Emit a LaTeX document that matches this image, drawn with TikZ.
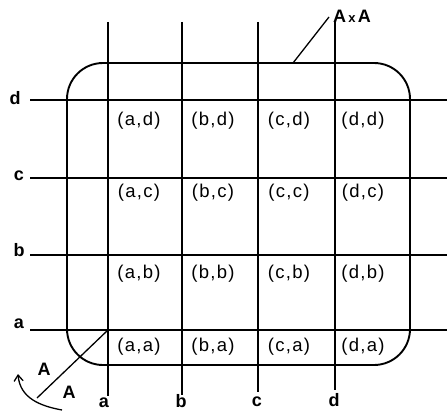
\documentclass[tikz,border=0pt]{standalone}
\usepackage{fontspec}
\setmainfont{Liberation Sans}[LetterSpace=7]
\usetikzlibrary{arrows.meta}
\begin{document}
\begin{tikzpicture}[x=1pt,y=-1pt,
  grid/.style={line width=1.3pt,black},
  setline/.style={line width=1.9pt,black},
  lbl/.style={font=\fontsize{18}{20}\selectfont\bfseries, inner sep=1pt},
  cell/.style={font=\fontsize{18.5}{20}\selectfont}]
\useasboundingbox[fill=white] (0,0) rectangle (447,412);
% vertical lines
\foreach \n/\x/\yb in {a/108/396,b/182/395,c/258/392,d/335/390}{
  \coordinate (vt\n) at (\x,22);
  \coordinate (vb\n) at (\x,\yb);
  \draw[grid] (vt\n) -- (vb\n);
}
% horizontal lines
\foreach \n/\y in {d/100,c/178,b/255,a/330}{
  \coordinate (hl\n) at (30,\y);
  \coordinate (hr\n) at (447,\y);
  \draw[grid] (hl\n) -- (hr\n);
}
% labels
\node[lbl] (ld) at (15,98) {d};
\node[lbl] (lc) at (19,176) {c};
\node[lbl] (lb) at (19,250) {b};
\node[lbl] (la) at (19,324) {a};
\node[lbl] (bla) at (104,403) {a};
\node[lbl] (blb) at (181,401) {b};
\node[lbl] (blc) at (257,402) {c};
\node[lbl] (bld) at (334,400) {d};
% rounded set
\draw[setline,rounded corners=36pt] (67,63) rectangle (410,365);
% AxA
\coordinate (ax0) at (293,63);
\coordinate (ax1) at (329,17);
\draw[grid] (ax0) -- (ax1);
\node[lbl,anchor=west] (axa) at (332,16) {A{\fontsize{13}{13}\selectfont\,x\,}A};
% diagonal A
\coordinate (dg0) at (108,330);
\coordinate (dg1) at (37,398);
\draw[grid] (dg0) -- (dg1);
\node[lbl] (A1) at (44,369) {A};
\node[lbl] (A2) at (69,392) {A};
\coordinate (cv0) at (62,410);
\coordinate (cv1) at (18,374);
\draw[grid,-{Straight Barb[length=6pt,width=9pt]}] (cv0) .. controls (40,406) and (20,398) .. (cv1);
% cells
\foreach \c/\x in {a/139,b/213,c/289,d/363}{
  \node[cell] (c\c d) at (\x,121) {(\c,d)};
  \node[cell] (c\c c) at (\x,193) {(\c,c)};
  \node[cell] (c\c b) at (\x,274) {(\c,b)};
  \node[cell] (c\c a) at (\x,347) {(\c,a)};
}
\end{tikzpicture}
\end{document}
